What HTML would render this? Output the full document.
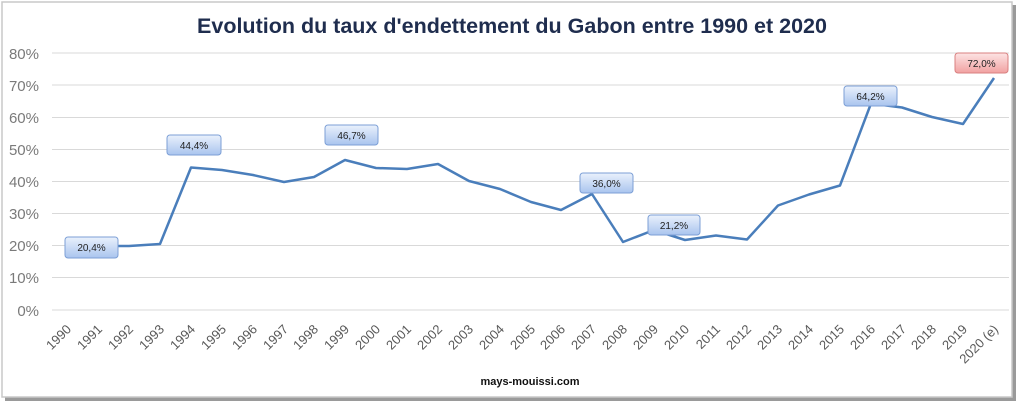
<!DOCTYPE html>
<html><head><meta charset="utf-8"><style>
body{margin:0;background:#fff;}
svg{display:block;font-family:"Liberation Sans",Arial,sans-serif;}
</style></head><body>
<svg width="1024" height="405" viewBox="0 0 1024 405">
<defs>
<linearGradient id="bl" x1="0" y1="0" x2="0" y2="1"><stop offset="0" stop-color="#eaf1fc"/><stop offset="1" stop-color="#a9c4ee"/></linearGradient>
<linearGradient id="rd" x1="0" y1="0" x2="0" y2="1"><stop offset="0" stop-color="#fde4e4"/><stop offset="1" stop-color="#f1a1a1"/></linearGradient>
</defs>
<rect x="0" y="0" width="1024" height="405" fill="#fff"/>
<rect x="5" y="5" width="1011" height="396" fill="#9a9a9a"/>
<rect x="2" y="2" width="1010" height="395" fill="#fff" stroke="#c8c8c8" stroke-width="1.5"/>
<text x="512" y="33" text-anchor="middle" font-size="21.5" font-weight="bold" fill="#1f2d4e">Evolution du taux d'endettement du Gabon entre 1990 et 2020</text>
<g stroke="#d9d9d9" stroke-width="1">
<line x1="52" x2="1009" y1="53" y2="53"/><line x1="52" x2="1009" y1="85" y2="85"/><line x1="52" x2="1009" y1="117.5" y2="117.5"/><line x1="52" x2="1009" y1="149.5" y2="149.5"/><line x1="52" x2="1009" y1="181.5" y2="181.5"/><line x1="52" x2="1009" y1="213.5" y2="213.5"/><line x1="52" x2="1009" y1="245.5" y2="245.5"/><line x1="52" x2="1009" y1="277.5" y2="277.5"/><line x1="52" x2="1009" y1="310" y2="310"/>
</g>
<g font-size="15" fill="#7a7a7a" text-anchor="end">
<text x="39" y="59">80%</text><text x="39" y="91">70%</text><text x="39" y="123">60%</text><text x="39" y="155">50%</text><text x="39" y="187">40%</text><text x="39" y="219">30%</text><text x="39" y="251">20%</text><text x="39" y="283">10%</text><text x="39" y="316">0%</text>
</g>
<polyline fill="none" stroke="#4a7ebb" stroke-width="2.5" stroke-linejoin="round" points="67,245 98,246 129,246 160,244 191,167.5 222,170 253,175 284,182 314,177 345,160 376,168 407,169 438,164 469,181 500,189 531,202 561,210 592,194 623,242 654,230 685,240 716,235.5 747,239.5 778,205.5 809,194.5 840,185.5 871,103.5 902,107.5 932,117 963,124 994,78"/>
<g font-size="13" fill="#595959">
<text transform="translate(72,330) rotate(-45)" text-anchor="end">1990</text>
<text transform="translate(103,330) rotate(-45)" text-anchor="end">1991</text>
<text transform="translate(134,330) rotate(-45)" text-anchor="end">1992</text>
<text transform="translate(165,330) rotate(-45)" text-anchor="end">1993</text>
<text transform="translate(196,330) rotate(-45)" text-anchor="end">1994</text>
<text transform="translate(227,330) rotate(-45)" text-anchor="end">1995</text>
<text transform="translate(258,330) rotate(-45)" text-anchor="end">1996</text>
<text transform="translate(289,330) rotate(-45)" text-anchor="end">1997</text>
<text transform="translate(319,330) rotate(-45)" text-anchor="end">1998</text>
<text transform="translate(350,330) rotate(-45)" text-anchor="end">1999</text>
<text transform="translate(381,330) rotate(-45)" text-anchor="end">2000</text>
<text transform="translate(412,330) rotate(-45)" text-anchor="end">2001</text>
<text transform="translate(443,330) rotate(-45)" text-anchor="end">2002</text>
<text transform="translate(474,330) rotate(-45)" text-anchor="end">2003</text>
<text transform="translate(505,330) rotate(-45)" text-anchor="end">2004</text>
<text transform="translate(536,330) rotate(-45)" text-anchor="end">2005</text>
<text transform="translate(566,330) rotate(-45)" text-anchor="end">2006</text>
<text transform="translate(597,330) rotate(-45)" text-anchor="end">2007</text>
<text transform="translate(628,330) rotate(-45)" text-anchor="end">2008</text>
<text transform="translate(659,330) rotate(-45)" text-anchor="end">2009</text>
<text transform="translate(690,330) rotate(-45)" text-anchor="end">2010</text>
<text transform="translate(721,330) rotate(-45)" text-anchor="end">2011</text>
<text transform="translate(752,330) rotate(-45)" text-anchor="end">2012</text>
<text transform="translate(783,330) rotate(-45)" text-anchor="end">2013</text>
<text transform="translate(814,330) rotate(-45)" text-anchor="end">2014</text>
<text transform="translate(845,330) rotate(-45)" text-anchor="end">2015</text>
<text transform="translate(876,330) rotate(-45)" text-anchor="end">2016</text>
<text transform="translate(907,330) rotate(-45)" text-anchor="end">2017</text>
<text transform="translate(937,330) rotate(-45)" text-anchor="end">2018</text>
<text transform="translate(968,330) rotate(-45)" text-anchor="end">2019</text>
<text transform="translate(999,330) rotate(-45)" text-anchor="end">2020 (e)</text>
</g>
<g font-size="10" fill="#222" text-anchor="middle" stroke-width="1">
<rect x="65" y="237" width="53" height="21" rx="3" fill="url(#bl)" stroke="#7c9fd6"/><text x="91.5" y="251">20,4%</text>
<rect x="167" y="135" width="54" height="20" rx="3" fill="url(#bl)" stroke="#7c9fd6"/><text x="194" y="149">44,4%</text>
<rect x="325" y="125" width="53" height="20" rx="3" fill="url(#bl)" stroke="#7c9fd6"/><text x="351.5" y="139">46,7%</text>
<rect x="580" y="173" width="53" height="20" rx="3" fill="url(#bl)" stroke="#7c9fd6"/><text x="606.5" y="187">36,0%</text>
<rect x="648" y="215" width="52" height="20" rx="3" fill="url(#bl)" stroke="#7c9fd6"/><text x="674" y="229">21,2%</text>
<rect x="844" y="86" width="53" height="20" rx="3" fill="url(#bl)" stroke="#7c9fd6"/><text x="870.5" y="100">64,2%</text>
<rect x="955" y="53" width="53" height="20" rx="3" fill="url(#rd)" stroke="#d98080"/><text x="981.5" y="67">72,0%</text>
</g>
<text x="530" y="385" text-anchor="middle" font-size="11" font-weight="bold" fill="#111">mays-mouissi.com</text>
</svg>
</body></html>
